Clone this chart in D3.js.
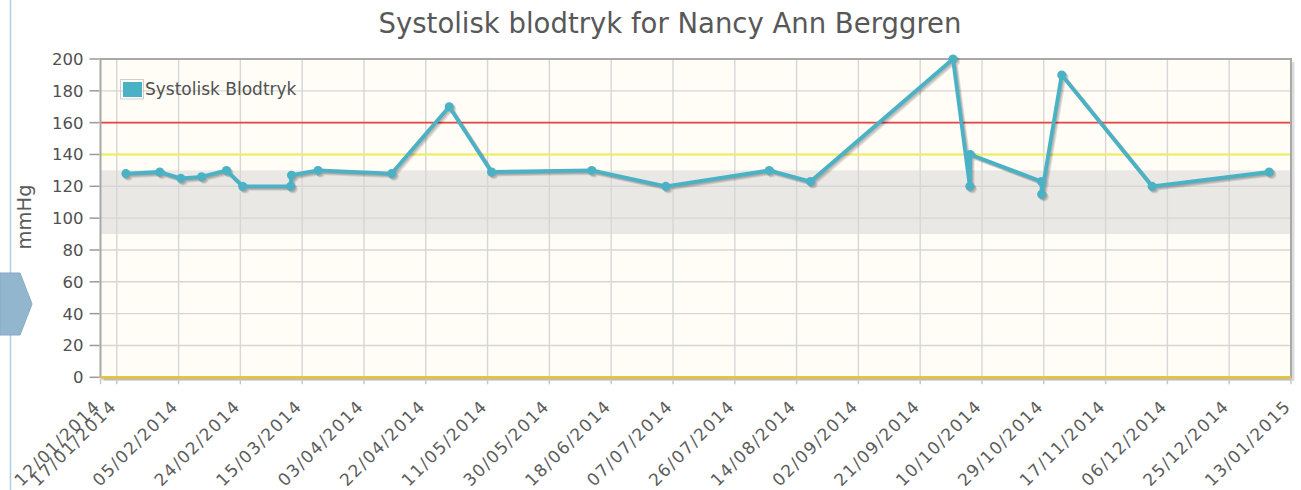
<!DOCTYPE html>
<html>
<head>
<meta charset="utf-8">
<script src="https://cdn.jsdelivr.net/npm/d3@7"></script>
<style>
  html, body { margin: 0; padding: 0; background: #ffffff; }
  svg { display: block; font-family: "DejaVu Sans", Verdana, sans-serif; }
</style>
</head>
<body>
<svg id="chart" width="1301" height="490"></svg>
<script>
// Systolic readings (time, mmHg) in the order they were recorded
const readingTimes = [
  "2014-01-19 19:00", "2014-01-30 05:00", "2014-02-05 17:00", "2014-02-12 02:00",
  "2014-02-19 17:00", "2014-02-24 17:00", "2014-03-11 10:00", "2014-03-11 17:00",
  "2014-03-19 21:00", "2014-04-11 12:00", "2014-04-29 05:00", "2014-05-12 05:00",
  "2014-06-12 00:00", "2014-07-04 19:00", "2014-08-05 14:00", "2014-08-18 07:00",
  "2014-10-01 02:00", "2014-10-06 06:00", "2014-10-06 09:00", "2014-10-28 07:00",
  "2014-10-28 08:00", "2014-11-03 12:00", "2014-12-01 07:00", "2015-01-06 07:00"
];
const systolic = [
  128, 129, 125, 126,
  130, 120, 120, 127,
  130, 128, 170, 129,
  130, 120, 130, 123,
  200, 120, 140, 123,
  115, 190, 120, 129
];

// Axis ticks
const xTickLabels = [
  "12/01/2014", "17/01/2014", "05/02/2014", "24/02/2014", "15/03/2014", "03/04/2014",
  "22/04/2014", "11/05/2014", "30/05/2014", "18/06/2014", "07/07/2014", "26/07/2014",
  "14/08/2014", "02/09/2014", "21/09/2014", "10/10/2014", "29/10/2014", "17/11/2014",
  "06/12/2014", "25/12/2014", "13/01/2015"
];
const yTicks = [0, 20, 40, 60, 80, 100, 120, 140, 160, 180, 200];

// Reference levels
const normalBand = [90, 130];
const warnLevel = 140;
const alarmLevel = 160;
const baseLevel = 0;

const titleText = "Systolisk blodtryk for Nancy Ann Berggren";
const seriesName = "Systolisk Blodtryk";
const yAxisTitle = "mmHg";

const parseTime = d3.utcParse("%Y-%m-%d %H:%M");
const parseTick = d3.utcParse("%d/%m/%Y");
const points = readingTimes.map((t, i) => ({ t: parseTime(t), v: systolic[i] }));
const tickDates = xTickLabels.map(parseTick);

const L = 100.5, R = 1291, T = 59, B = 377.3;
const seriesColor = "#4bb2c5";

const x = d3.scaleUtc()
  .domain([tickDates[0], tickDates[tickDates.length - 1]])
  .range([L, R]);
const y = d3.scaleLinear().domain([0, 200]).range([B, T]);

const svg = d3.select("#chart");

// Side panel edge and tab
svg.append("line")
  .attr("x1", 10.5).attr("x2", 10.5).attr("y1", 0).attr("y2", 490)
  .attr("stroke", "#b3cde0").attr("stroke-width", 1.5);
svg.append("path")
  .attr("d", "M0,273 L20,273 L32,304 L20,335 L0,335 Z")
  .attr("fill", "#93b6cf").attr("stroke", "#84a9c4").attr("stroke-width", 1);

// Title
svg.append("text")
  .attr("x", 670).attr("y", 33)
  .attr("text-anchor", "middle")
  .attr("font-size", 27.5)
  .attr("fill", "#585858")
  .text(titleText);

// Y axis title
svg.append("text")
  .attr("transform", "translate(31,217) rotate(-90)")
  .attr("text-anchor", "middle")
  .attr("font-size", 19.5)
  .attr("fill", "#5a5a5a")
  .text(yAxisTitle);

// Plot background
svg.append("rect")
  .attr("x", L).attr("y", T).attr("width", R - L).attr("height", B - T)
  .attr("fill", "#fffdf6");

// Normal range band
svg.append("rect")
  .attr("x", L).attr("width", R - L)
  .attr("y", y(normalBand[1])).attr("height", y(normalBand[0]) - y(normalBand[1]))
  .attr("fill", "#e9e8e4");

// Grid lines
const grid = svg.append("g").attr("stroke", "#d6d6d6").attr("stroke-width", 1.4);
grid.selectAll("line.h").data(yTicks.slice(1, -1)).join("line")
  .attr("class", "h")
  .attr("x1", L).attr("x2", R)
  .attr("y1", d => y(d)).attr("y2", d => y(d));
grid.selectAll("line.v").data(tickDates.slice(1, -1)).join("line")
  .attr("class", "v")
  .attr("y1", T).attr("y2", B)
  .attr("x1", d => x(d)).attr("x2", d => x(d));

// Threshold lines
svg.append("line")
  .attr("x1", L).attr("x2", R).attr("y1", y(warnLevel)).attr("y2", y(warnLevel))
  .attr("stroke", "#f0ef5a").attr("stroke-width", 2);
svg.append("line")
  .attr("x1", L).attr("x2", R).attr("y1", y(alarmLevel)).attr("y2", y(alarmLevel))
  .attr("stroke", "#e54545").attr("stroke-width", 1.8);

// Grid border shadow (right and bottom)
for (let j = 1; j <= 3; j++) {
  svg.append("path")
    .attr("d", `M${R + j},${T + 3} L${R + j},${B + j} L${L + 3},${B + j}`)
    .attr("fill", "none")
    .attr("stroke", "rgba(0,0,0,0.12)")
    .attr("stroke-width", 1.2);
}
// Grid border
svg.append("rect")
  .attr("x", L).attr("y", T).attr("width", R - L).attr("height", B - T)
  .attr("fill", "none").attr("stroke", "#a8a8a8").attr("stroke-width", 2);

// Base line at 0
svg.append("line")
  .attr("x1", L).attr("x2", R).attr("y1", y(baseLevel) + 2).attr("y2", y(baseLevel) + 2)
  .attr("stroke", "rgba(0,0,0,0.12)").attr("stroke-width", 2);
svg.append("line")
  .attr("x1", L).attr("x2", R).attr("y1", y(baseLevel)).attr("y2", y(baseLevel))
  .attr("stroke", "#e6c53a").attr("stroke-width", 2.6);

// Y axis ticks and labels
const yAxis = svg.append("g").attr("transform", `translate(${L - 1},0)`);
yAxis.selectAll("line").data(yTicks).join("line")
  .attr("x1", -10).attr("x2", 0)
  .attr("y1", d => y(d)).attr("y2", d => y(d))
  .attr("stroke", "#9a9a9a").attr("stroke-width", 1.5);
yAxis.selectAll("text").data(yTicks).join("text")
  .attr("x", -16).attr("y", d => y(d))
  .attr("dy", "0.36em")
  .attr("text-anchor", "end")
  .attr("font-size", 16.5)
  .attr("fill", "#505050")
  .text(d => d);

// X axis ticks and rotated labels
const xAxis = svg.append("g");
xAxis.selectAll("line").data(tickDates).join("line")
  .attr("x1", d => x(d)).attr("x2", d => x(d))
  .attr("y1", B + 2).attr("y2", B + 7)
  .attr("stroke", "#c8c8c8").attr("stroke-width", 1.5);
xAxis.selectAll("text").data(xTickLabels).join("text")
  .attr("transform", (d, i) => `translate(${x(tickDates[i]) + 1},${B + 30}) rotate(-45)`)
  .attr("text-anchor", "end")
  .attr("font-size", 17)
  .attr("letter-spacing", 1.5)
  .attr("fill", "#5c5c5c")
  .text(d => d);

// Series: shadow passes, then line and markers
const line = d3.line().x(d => x(d.t)).y(d => y(d.v));
const series = svg.append("g");
for (let j = 1; j <= 3; j++) {
  const off = 1.25 * j * Math.SQRT1_2;
  const sh = series.append("g")
    .attr("transform", `translate(${off},${off})`)
    .attr("opacity", 0.1);
  sh.append("path").datum(points)
    .attr("d", line).attr("fill", "none")
    .attr("stroke", "#000").attr("stroke-width", 3.8)
    .attr("stroke-linejoin", "round");
  sh.selectAll("circle").data(points).join("circle")
    .attr("cx", d => x(d.t)).attr("cy", d => y(d.v)).attr("r", 4.5)
    .attr("fill", "#000");
}
const front = series.append("g");
front.append("path").datum(points)
  .attr("d", line).attr("fill", "none")
  .attr("stroke", seriesColor).attr("stroke-width", 3.8)
  .attr("stroke-linejoin", "round");
front.selectAll("circle").data(points).join("circle")
  .attr("cx", d => x(d.t)).attr("cy", d => y(d.v)).attr("r", 4.5)
  .attr("fill", seriesColor);

// Legend
const legend = svg.append("g").attr("transform", "translate(120,79)");
legend.append("rect")
  .attr("x", 0.5).attr("y", 0.5).attr("width", 23).attr("height", 19.5)
  .attr("fill", "none").attr("stroke", "#cfcfcf").attr("stroke-width", 1);
legend.append("rect")
  .attr("x", 3).attr("y", 3).attr("width", 19).attr("height", 15)
  .attr("fill", seriesColor);
legend.append("text")
  .attr("x", 25).attr("y", 16)
  .attr("font-size", 17)
  .attr("fill", "#505050")
  .text(seriesName);
</script>
</body>
</html>
